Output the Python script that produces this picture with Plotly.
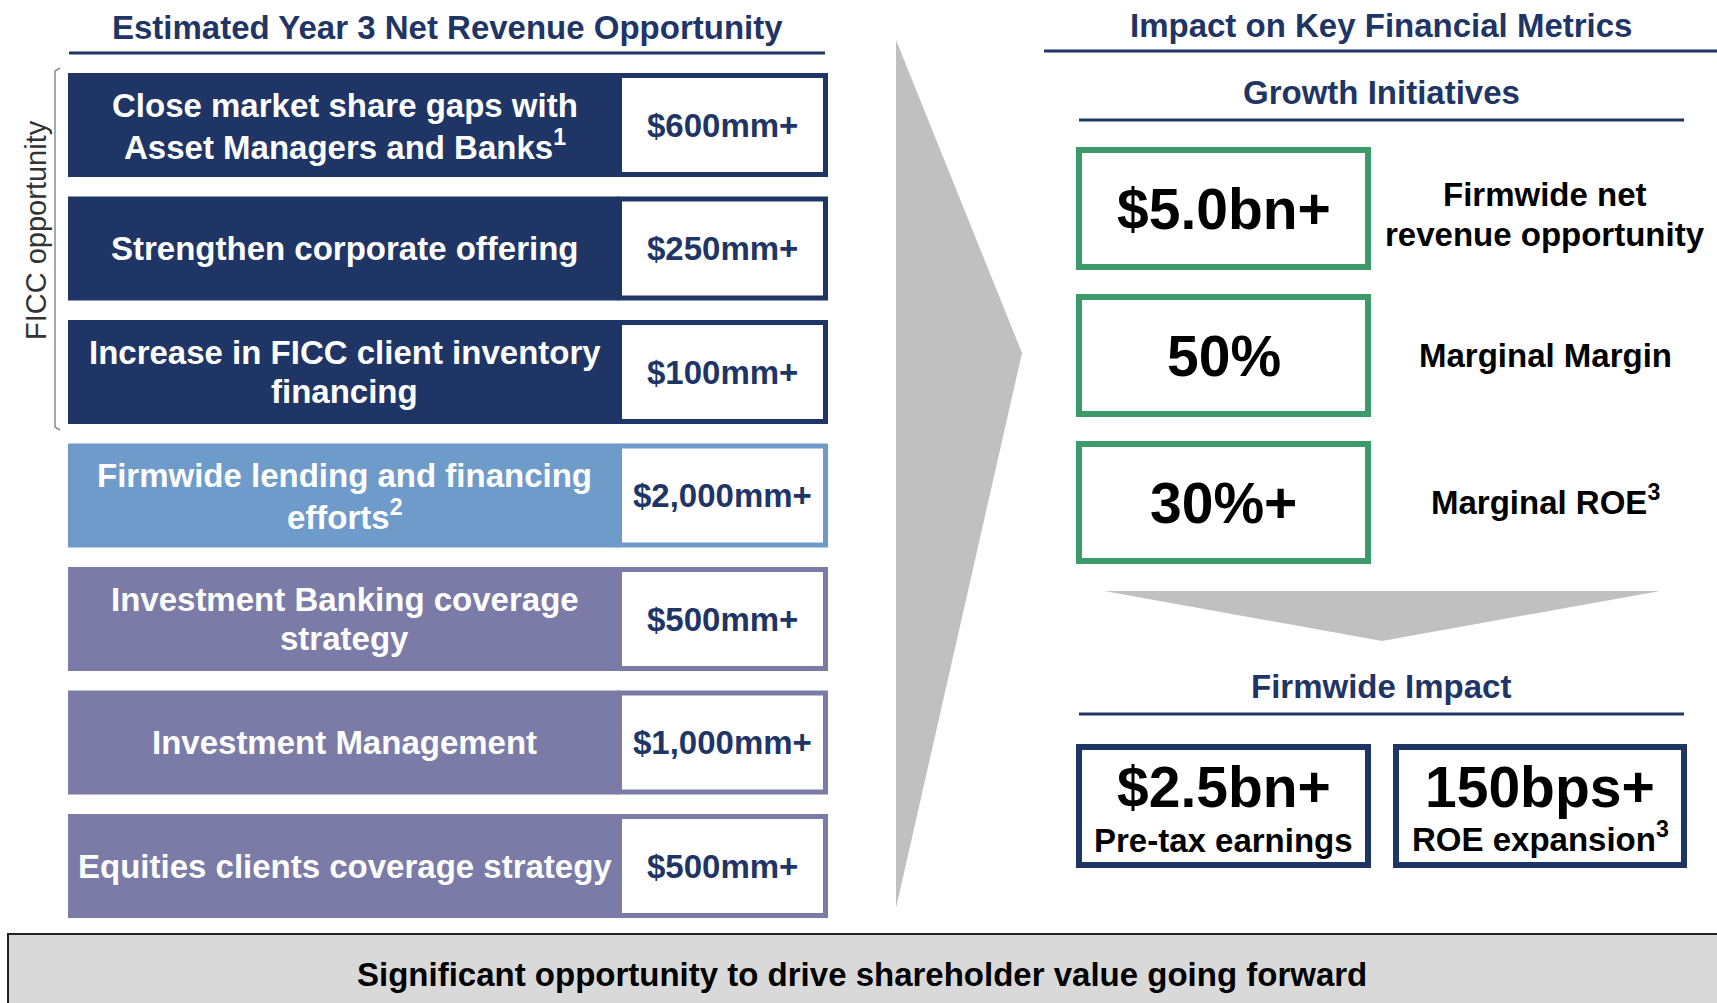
import plotly.graph_objects as go

# left panel: revenue initiatives
labels = [
    "Close market share gaps with<br>Asset Managers and Banks<sup>1</sup>",
    "Strengthen corporate offering",
    "Increase in FICC client inventory<br>financing",
    "Firmwide lending and financing<br>efforts<sup>2</sup>",
    "Investment Banking coverage<br>strategy",
    "Investment Management",
    "Equities clients coverage strategy",
]
values = ["$600mm+", "$250mm+", "$100mm+", "$2,000mm+", "$500mm+", "$1,000mm+", "$500mm+"]
groups = ["FICC", "FICC", "FICC", "Lending", "Other", "Other", "Other"]

# right panel: key metrics
metric_values = ["$5.0bn+", "50%", "30%+"]
metric_labels = ["Firmwide net<br>revenue opportunity", "Marginal Margin", "Marginal ROE<sup>3</sup>"]
impact_values = ["$2.5bn+", "150bps+"]
impact_labels = ["Pre-tax earnings", "ROE expansion<sup>3</sup>"]

NAVY = "#1f3566"
group_colors = {"FICC": "#1f3566", "Lending": "#6e9bc9", "Other": "#7b7ba8"}
GREEN = "#3d9a6b"
GREY = "#c0c0c0"
FONT = "Liberation Sans, Arial, sans-serif"
W, H = 1717, 1003
LINE_H = 39.5  # spacing between wrapped lines

fig = go.Figure()
shapes = []
ann = []


def text(x, y, s, size, color, weight="bold", **kw):
    parts = s.split("<br>")
    n = len(parts)
    for k, p in enumerate(parts):
        yy = y + (k - (n - 1) / 2) * LINE_H
        if n == 1 and "<sup>" in p:
            yy -= 3  # superscript makes the text box taller, pull it back up
        ann.append(dict(x=x, y=yy, text=p, showarrow=False,
                        xref="x", yref="y",
                        font=dict(family=FONT, size=size, color=color, weight=weight),
                        xanchor="center", yanchor="middle", **kw))


def line(x0, x1, y, color=NAVY, width=3):
    shapes.append(dict(type="line", x0=x0, x1=x1, y0=y, y1=y, xref="x", yref="y",
                       line=dict(color=color, width=width)))


# ---- left side ----
text(447, 27, "Estimated Year 3 Net Revenue Opportunity", 33, NAVY)
line(69, 825, 53)

row_top, row_pitch, row_h = 73, 123.5, 104
lab_x0, lab_x1, val_x1 = 68, 617, 828
for i, (lab, val, g) in enumerate(zip(labels, values, groups)):
    y0 = row_top + i * row_pitch
    y1 = y0 + row_h
    c = group_colors[g]
    shapes.append(dict(type="rect", x0=lab_x0, x1=lab_x1 + 2, y0=y0, y1=y1, xref="x", yref="y",
                       fillcolor=c, line=dict(width=0), layer="below"))
    shapes.append(dict(type="rect", x0=lab_x1 + 2.5, x1=val_x1 - 2.5, y0=y0 + 2.5, y1=y1 - 2.5,
                       xref="x", yref="y", fillcolor="white", line=dict(color=c, width=5)))
    text((lab_x0 + lab_x1) / 2 + 2, (y0 + y1) / 2, lab, 33, "white")
    text((lab_x1 + val_x1) / 2, (y0 + y1) / 2, val, 33, NAVY)

# FICC bracket
n_ficc = groups.count("FICC")
b_top = row_top - 5
b_bot = row_top + (n_ficc - 1) * row_pitch + row_h + 6
shapes.append(dict(type="path", path=f"M 60,{b_top} L 55,{b_top + 3} L 55,{b_bot - 3} L 60,{b_bot}",
                   xref="x", yref="y", line=dict(color="#8c8c8c", width=1.5)))
text(36, 230, "FICC opportunity", 29, "#333333", weight="normal", textangle=-90)

# big chevron arrow
shapes.append(dict(type="path", path="M 896,40 L 1022,353 L 896,908 Z", xref="x", yref="y",
                   fillcolor=GREY, line=dict(width=0), layer="below"))

# ---- right side ----
text(1381, 25, "Impact on Key Financial Metrics", 33, NAVY)
line(1044, 1717, 51)
text(1381, 92, "Growth Initiatives", 33, NAVY)
line(1079, 1684, 120)

box_x0, box_x1 = 1076, 1371
m_top, m_pitch, m_h = 147, 147, 123
for i, (v, lab) in enumerate(zip(metric_values, metric_labels)):
    y0 = m_top + i * m_pitch
    y1 = y0 + m_h
    shapes.append(dict(type="rect", x0=box_x0 + 3, x1=box_x1 - 3, y0=y0 + 3, y1=y1 - 3,
                       xref="x", yref="y", fillcolor="white", line=dict(color=GREEN, width=6)))
    text((box_x0 + box_x1) / 2, (y0 + y1) / 2, v, 57, "black")
    dy = 6 if "<br>" in lab else 0
    text(1545, (y0 + y1) / 2 + dy, lab, 33, "black")

# down chevron
shapes.append(dict(type="path", path="M 1104,591 L 1660,591 L 1382,641 Z", xref="x", yref="y",
                   fillcolor=GREY, line=dict(width=0), layer="below"))

text(1381, 686, "Firmwide Impact", 33, NAVY)
line(1079, 1684, 714)

imp_x = [(1076, 1371), (1393, 1687)]
i_y0, i_y1 = 744, 868
for (x0, x1), v, lab in zip(imp_x, impact_values, impact_labels):
    shapes.append(dict(type="rect", x0=x0 + 3, x1=x1 - 3, y0=i_y0 + 3, y1=i_y1 - 3,
                       xref="x", yref="y", fillcolor="white", line=dict(color=NAVY, width=6)))
    text((x0 + x1) / 2, 787, v, 57, "black")
    text((x0 + x1) / 2, 840, lab, 33, "black")

# bottom banner
shapes.append(dict(type="rect", x0=8, x1=W + 5, y0=934, y1=H + 5, xref="x", yref="y",
                   fillcolor="#d9d9d9", line=dict(color="#222222", width=2)))
text(862, 974, "Significant opportunity to drive shareholder value going forward", 33, "black")

fig.add_trace(go.Scatter(x=[0, W], y=[0, H], mode="markers", marker=dict(opacity=0),
                         hoverinfo="skip", showlegend=False))

fig.update_layout(
    width=W, height=H,
    margin=dict(l=0, r=0, t=0, b=0),
    paper_bgcolor="white", plot_bgcolor="white",
    xaxis=dict(range=[0, W], visible=False, fixedrange=True),
    yaxis=dict(range=[H, 0], visible=False, fixedrange=True),
    shapes=shapes, annotations=ann, showlegend=False,
)

# drop the browser's default body margin so the figure sits at the page origin
fig.write_html("out.html", config={"displayModeBar": False},
               post_script="document.body.style.margin='0px';")
